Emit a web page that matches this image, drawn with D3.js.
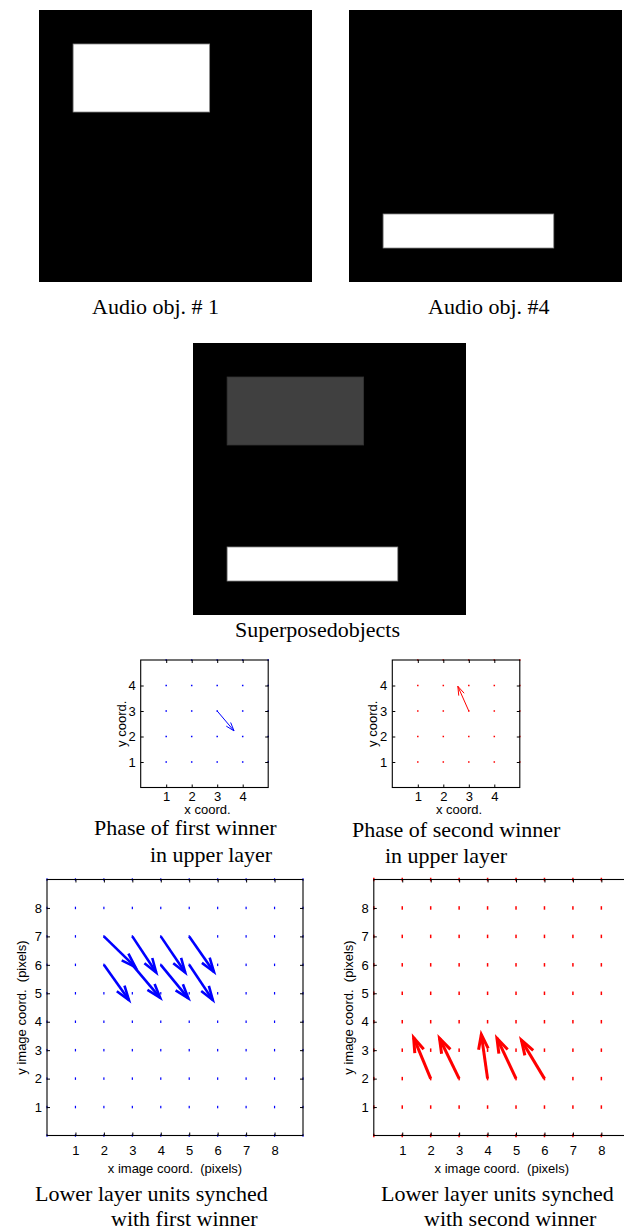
<!DOCTYPE html>
<html>
<head>
<meta charset="utf-8">
<script src="https://cdn.jsdelivr.net/npm/d3@7"></script>
<style>
  body { margin: 0; background: #fff; }
  text { white-space: pre; }
</style>
</head>
<body>
<div class="canvas"></div>
<script>
/////////////////////////////////
//** DATA **//

// 64x64 images, object boxes as [x0, x1, y0, y1] in image pixels
const imgSize = 64;
const audioObj1 = [8, 40, 8, 24];
const audioObj4 = [8, 48, 48, 56];
const superposedObjs = [audioObj1, audioObj4];
const superposedLevels = [0.25, 1];

// upper layer (5x5) phase of winners
const upperGrid = [1, 2, 3, 4, 5];
const upperTicks = [1, 2, 3, 4];
const firstWinnerUpper = [{ x: 3, y: 3, u: 0.66, v: -0.78 }];
const secondWinnerUpper = [{ x: 3, y: 3, u: -0.43, v: 0.97 }];

// lower layer units (grid 0..9)
const lowerGrid = [0, 1, 2, 3, 4, 5, 6, 7, 8, 9];
const lowerTicks = [1, 2, 3, 4, 5, 6, 7, 8];
const firstWinnerLower = [
    { x: 2, y: 7, u: 1.11, v: -1.08 },
    { x: 3, y: 7, u: 0.84, v: -1.27 },
    { x: 4, y: 7, u: 0.86, v: -1.27 },
    { x: 5, y: 7, u: 0.87, v: -1.25 },
    { x: 2, y: 6, u: 0.88, v: -1.24 },
    { x: 3, y: 6, u: 0.98, v: -1.16 },
    { x: 4, y: 6, u: 0.97, v: -1.18 },
    { x: 5, y: 6, u: 0.83, v: -1.24 }
];
const secondWinnerLower = [
    { x: 2, y: 2, u: -0.60, v: 1.44 },
    { x: 3, y: 2, u: -0.69, v: 1.42 },
    { x: 4, y: 2, u: -0.22, v: 1.55 },
    { x: 5, y: 2, u: -0.67, v: 1.42 },
    { x: 6, y: 2, u: -0.81, v: 1.35 }
];

/////////////////////////////////
//** SVG CONTAINER **//

const svg = d3.select('.canvas')
    .append('svg')
    .attr('width', 624)
    .attr('height', 1232)
    .style('display', 'block');

svg.append('rect').attr('width', 624).attr('height', 1232).attr('fill', '#fff');

const serif = 'Liberation Serif, Times New Roman, serif';
const sans = 'Liberation Sans, Arial, sans-serif';

// grey level -> colour
const grey = d3.scaleLinear().domain([0, 1]).range(['#000', '#fff']);

/////////////////////////////////
//** IMAGES **//

const drawImage = (x0, y0, size, objs, levels) => {
    const x = d3.scaleLinear().domain([0, imgSize]).range([x0, x0 + size]);
    const y = d3.scaleLinear().domain([0, imgSize]).range([y0, y0 + size - 1]);
    const g = svg.append('g');
    g.append('rect')
        .attr('x', x(0)).attr('y', y(0))
        .attr('width', x(imgSize) - x(0)).attr('height', y(imgSize) - y(0))
        .attr('fill', '#000');
    g.selectAll('rect.obj')
        .data(objs)
        .enter()
        .append('rect')
        .attr('class', 'obj')
        .attr('x', d => x(d[0]))
        .attr('y', d => y(d[2]))
        .attr('width', d => x(d[1]) - x(d[0]))
        .attr('height', d => y(d[3]) - y(d[2]))
        .attr('fill', (d, i) => grey(levels[i]))
        .attr('stroke', (d, i) => levels[i] > 0.5 ? '#888' : '#333')
        .attr('stroke-width', 0.8);
};

drawImage(39, 10, 273, [audioObj1], [1]);
drawImage(349, 10, 273, [audioObj4], [1]);
drawImage(193, 343, 273, superposedObjs, superposedLevels);

/////////////////////////////////
//** QUIVER PLOTS **//

const alpha = 0.33, beta = 0.33; // arrow head size relative to vector length

const drawQuiver = (opt) => {
    const x = d3.scaleLinear().domain(opt.domain).range([opt.left, opt.left + opt.size]);
    const y = d3.scaleLinear().domain(opt.domain).range([opt.top + opt.size, opt.top]);
    const g = svg.append('g');

    // grid units (near-zero phase vectors)
    const pts = [];
    opt.grid.forEach(gx => opt.grid.forEach(gy => pts.push([gx, gy])));
    g.selectAll('rect.dot')
        .data(pts)
        .enter()
        .append('rect')
        .attr('class', 'dot')
        .attr('x', d => x(d[0]) - opt.dot[0] / 2)
        .attr('y', d => y(d[1]) - opt.dot[1] / 2)
        .attr('width', opt.dot[0])
        .attr('height', opt.dot[1])
        .attr('fill', opt.color);

    // box
    g.append('rect')
        .attr('x', x(opt.domain[0])).attr('y', y(opt.domain[1]))
        .attr('width', x(opt.domain[1]) - x(opt.domain[0]))
        .attr('height', y(opt.domain[0]) - y(opt.domain[1]))
        .attr('fill', 'none')
        .attr('stroke', '#000')
        .attr('stroke-width', 1.1);

    // axes with inward ticks on every side
    const fmt = d3.format('d');
    const styleAxis = (a) => {
        a.select('.domain').remove();
        a.selectAll('line').attr('stroke', '#000');
        a.selectAll('text').attr('font-family', sans).attr('font-size', 13).attr('fill', '#000');
    };
    g.append('g')
        .attr('transform', `translate(0, ${y(opt.domain[0])})`)
        .call(d3.axisBottom(x).tickValues(opt.ticks).tickFormat(fmt).tickSizeInner(-3).tickSizeOuter(0).tickPadding(opt.xPad))
        .call(styleAxis);
    g.append('g')
        .attr('transform', `translate(0, ${y(opt.domain[1])})`)
        .call(d3.axisTop(x).tickValues(opt.ticks).tickSizeInner(-3).tickSizeOuter(0).tickFormat(''))
        .call(styleAxis);
    g.append('g')
        .attr('transform', `translate(${x(opt.domain[0])}, 0)`)
        .call(d3.axisLeft(y).tickValues(opt.ticks).tickFormat(fmt).tickSizeInner(-3).tickSizeOuter(0).tickPadding(5))
        .call(styleAxis);
    g.append('g')
        .attr('transform', `translate(${x(opt.domain[1])}, 0)`)
        .call(d3.axisRight(y).tickValues(opt.ticks).tickSizeInner(-3).tickSizeOuter(0).tickFormat(''))
        .call(styleAxis);

    // arrows
    const arrows = g.selectAll('g.arrow')
        .data(opt.arrows)
        .enter()
        .append('g')
        .attr('class', 'arrow')
        .attr('fill', 'none')
        .attr('stroke', opt.color)
        .attr('stroke-width', opt.lw)
        .attr('stroke-linejoin', 'miter');

    arrows.append('line')
        .attr('x1', d => x(d.x)).attr('y1', d => y(d.y))
        .attr('x2', d => x(d.x + d.u)).attr('y2', d => y(d.y + d.v));

    arrows.append('path')
        .attr('d', d => {
            const sx = x(d.x), sy = y(d.y);
            const tx = x(d.x + d.u), ty = y(d.y + d.v);
            const du = tx - sx, dv = ty - sy;
            const b1 = [tx - alpha * (du + beta * dv), ty - alpha * (dv - beta * du)];
            const b2 = [tx - alpha * (du - beta * dv), ty - alpha * (dv + beta * du)];
            return d3.line()([b1, [tx, ty], b2]);
        });

    // axis labels
    const cx = (x(opt.domain[0]) + x(opt.domain[1])) / 2;
    const cy = (y(opt.domain[0]) + y(opt.domain[1])) / 2;
    g.append('text')
        .attr('x', cx + opt.xlabDx).attr('y', opt.xlabY)
        .attr('text-anchor', 'middle')
        .attr('font-family', sans).attr('font-size', 13)
        .text(opt.xlab);
    g.append('text')
        .attr('transform', `translate(${x(opt.domain[0]) - opt.ylabOff}, ${cy}) rotate(-90)`)
        .attr('text-anchor', 'middle')
        .attr('font-family', sans).attr('font-size', 13)
        .text(opt.ylab);
};

const upper = { domain: [0, 5], size: 127.5, top: 660, grid: upperGrid, ticks: upperTicks,
    dot: [1.5, 1.5], lw: 1, xPad: 4, xlabY: 814, xlabDx: 3, ylabOff: 15,
    xlab: 'x coord.', ylab: 'y coord.' };
drawQuiver({ ...upper, left: 140.7, arrows: firstWinnerUpper, color: '#0000ff' });
drawQuiver({ ...upper, left: 392.3, arrows: secondWinnerUpper, color: '#ff0000' });

const lower = { domain: [0, 9], size: 256, top: 879.5, grid: lowerGrid, ticks: lowerTicks,
    lw: 2.6, xPad: 10, xlabY: 1173, xlabDx: 0, ylabOff: 21,
    xlab: 'x image coord.  (pixels)', ylab: 'y image coord.  (pixels)' };
drawQuiver({ ...lower, left: 47, arrows: firstWinnerLower, color: '#0000ff', dot: [1.2, 2.5] });
drawQuiver({ ...lower, left: 373.8, arrows: secondWinnerLower, color: '#ff0000', dot: [1.5, 3.5], lw: 3 });

/////////////////////////////////
//** CAPTIONS **//

const captions = [
    { text: 'Audio obj. # 1', x: 92, y: 314 },
    { text: 'Audio obj. #4', x: 428, y: 314 },
    { text: 'Superposedobjects', x: 235, y: 637 },
    { text: 'Phase of first winner', x: 94, y: 835 },
    { text: 'in upper layer', x: 150, y: 862 },
    { text: 'Phase of second winner', x: 352, y: 837 },
    { text: 'in upper layer', x: 385, y: 863 },
    { text: 'Lower layer units synched', x: 35, y: 1201 },
    { text: 'with first winner', x: 111, y: 1226 },
    { text: 'Lower layer units synched', x: 381, y: 1201 },
    { text: 'with second winner', x: 424, y: 1226 }
];

svg.selectAll('text.caption')
    .data(captions)
    .enter()
    .append('text')
    .attr('class', 'caption')
    .attr('x', d => d.x)
    .attr('y', d => d.y)
    .attr('font-family', serif)
    .attr('font-size', 22)
    .attr('fill', '#000')
    .text(d => d.text);
</script>
</body>
</html>
